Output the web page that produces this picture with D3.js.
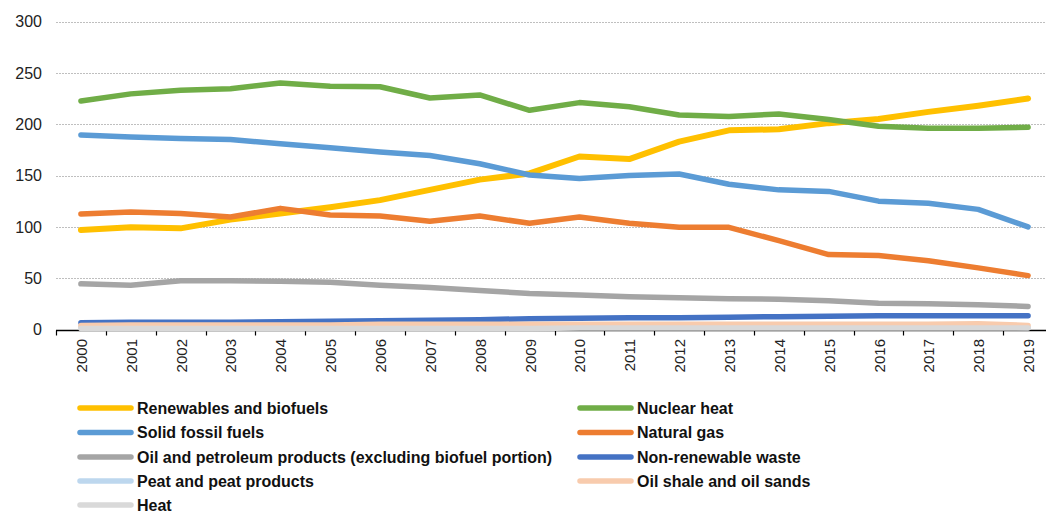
<!DOCTYPE html>
<html>
<head>
<meta charset="utf-8">
<script src="https://cdn.jsdelivr.net/npm/d3@7"></script>
<style>
  body { margin: 0; background: #fff; }
  svg { display: block; }
</style>
</head>
<body>
<div class="svg-chart"></div>
<script>
const years = ["2000","2001","2002","2003","2004","2005","2006","2007","2008","2009",
               "2010","2011","2012","2013","2014","2015","2016","2017","2018","2019"];
const yTicks = [0, 50, 100, 150, 200, 250, 300];

const renewables = [97, 99.5, 98.5, 107, 113, 119, 126, 136, 146, 152, 168.5, 166, 183, 194, 195, 201, 205, 212, 218, 225];
const nuclear    = [222.5, 229.5, 233, 234.5, 240, 237, 236.5, 225.5, 228.5, 213.5, 221, 217, 209, 207.5, 210, 204.5, 198, 196, 196, 197];
const solidFossil = [189.5, 187.5, 186, 185, 181, 177, 173, 169.5, 161.5, 150.5, 147, 150, 151.5, 141.5, 136, 134.5, 125, 123, 117, 100];
const naturalGas = [112.5, 114.5, 113, 109.5, 118, 111.5, 110.5, 105.5, 110.5, 103.5, 109.5, 103.5, 99.5, 99.5, 86.5, 73, 72, 67, 60, 52.5];
const oil        = [44.5, 43, 47.5, 47.5, 47, 46, 43, 41, 38, 35, 33.5, 32, 31, 30, 29.5, 28, 25.5, 25, 24, 22.5];
const waste      = [6.5, 7, 7, 7, 7.5, 8, 8.5, 9, 9.5, 10.5, 11, 11.5, 11.5, 12, 12.5, 13, 13.5, 13.5, 13.5, 13.5];
const peat       = [2.5, 2.5, 2.5, 2.5, 2.5, 2.5, 2.5, 2.5, 2.5, 2.5, 2.5, 2.5, 2.5, 2.5, 2.5, 2.5, 2.5, 2.5, 2.5, 2];
const oilShale   = [4, 4.5, 4.5, 4.5, 4.5, 4.5, 5, 5, 5, 5, 5, 5, 5, 5, 5, 5, 5, 5, 5.5, 4];
const heat       = [1, 1, 1, 1, 1, 1, 1, 1, 1, 1, 1.5, 1.5, 1.5, 1.5, 1.5, 1.5, 1.5, 1.5, 1.5, 1.5];

const seriesNames = [
  "Renewables and biofuels", "Nuclear heat", "Solid fossil fuels", "Natural gas",
  "Oil and petroleum products (excluding biofuel portion)", "Non-renewable waste",
  "Peat and peat products", "Oil shale and oil sands", "Heat"
];
const seriesValues = [renewables, nuclear, solidFossil, naturalGas, oil, waste, peat, oilShale, heat];
const seriesColors = ["#ffc000", "#70ad47", "#5b9bd5", "#ed7d31", "#a5a5a5", "#4472c4", "#bdd7ee", "#f8cbad", "#d9d9d9"];

let width = 1046;
let height = 511;
let margin = ({ top: 21.5, right: -7, bottom: 181.5, left: 56 });

const svg = d3.select('.svg-chart').append('svg')
    .attr('width', width)
    .attr('height', height)
    .attr('viewBox', '0 0 ' + width + ' ' + height);

let x = d3.scaleBand()
    .domain(years)
    .range([margin.left, width - margin.right])
    .paddingInner(0).paddingOuter(0);

let y = d3.scaleLinear()
    .domain([0, 300])
    .range([height - margin.bottom, margin.top]);

// dotted gridlines
svg.append('g')
    .selectAll('line')
    .data(yTicks.filter(d => d > 0))
    .enter()
    .append('line')
    .attr('x1', margin.left)
    .attr('x2', width)
    .attr('y1', d => Math.round(y(d)) + 0.5)
    .attr('y2', d => Math.round(y(d)) + 0.5)
    .attr('stroke', '#bfbfbf')
    .attr('stroke-width', 1)
    .attr('stroke-dasharray', '2,1');

// y labels
svg.append('g')
    .selectAll('text')
    .data(yTicks)
    .enter()
    .append('text')
    .attr('x', 42)
    .attr('y', d => y(d))
    .attr('dy', '0.36em')
    .attr('text-anchor', 'end')
    .style('font-family', 'Liberation Sans, Arial, sans-serif')
    .style('font-size', '16px')
    .attr('fill', '#222')
    .text(d => d);

// x axis line + ticks at band boundaries
const baseY = Math.round(y(0)) + 0.5;
svg.append('line')
    .attr('x1', margin.left)
    .attr('x2', width)
    .attr('y1', baseY)
    .attr('y2', baseY)
    .attr('stroke', '#000')
    .attr('stroke-width', 1.3);

svg.append('g')
    .selectAll('line')
    .data(years)
    .enter()
    .append('line')
    .attr('x1', d => Math.round(x(d)) + 0.5)
    .attr('x2', d => Math.round(x(d)) + 0.5)
    .attr('y1', baseY)
    .attr('y2', baseY + 5)
    .attr('stroke', '#000')
    .attr('stroke-width', 1.2);

// year labels, rotated
svg.append('g')
    .selectAll('text')
    .data(years)
    .enter()
    .append('text')
    .attr('transform', d => 'translate(' + (x(d) + x.bandwidth() / 2 + 6) + ',' + (baseY + 8.5) + ') rotate(-90)')
    .attr('text-anchor', 'end')
    .style('font-family', 'Liberation Sans, Arial, sans-serif')
    .style('font-size', '15px')
    .attr('fill', '#222')
    .text(d => d);

let line = d3.line()
    .x((d, i) => x(years[i]) + x.bandwidth() / 2)
    .y(d => y(d));

seriesValues.forEach((values, index) => {
    svg.append('path')
        .datum(values)
        .attr('fill', 'none')
        .attr('stroke', seriesColors[index])
        .attr('stroke-width', index == 0 ? 6 : 5.5)
        .attr('stroke-linejoin', 'round')
        .attr('stroke-linecap', 'round')
        .attr('d', line);
});

// legend, two columns
const legendCols = [78, 578];
const legendRows = [408, 432.5, 457, 481, 505];

let legend = svg.append('g')
    .selectAll('g')
    .data(seriesNames)
    .enter()
    .append('g')
    .attr('transform', (d, i) => 'translate(' + legendCols[i % 2] + ',' + legendRows[Math.floor(i / 2)] + ')');

legend.append('line')
    .attr('x1', 2)
    .attr('x2', 53)
    .attr('stroke', (d, i) => seriesColors[i])
    .attr('stroke-width', 5.5)
    .attr('stroke-linecap', 'round');

legend.append('text')
    .attr('x', 59)
    .attr('dy', '0.35em')
    .style('font-family', 'Liberation Sans, Arial, sans-serif')
    .style('font-size', '16px')
    .style('font-weight', 'bold')
    .attr('fill', '#111')
    .text(d => d);
</script>
</body>
</html>
